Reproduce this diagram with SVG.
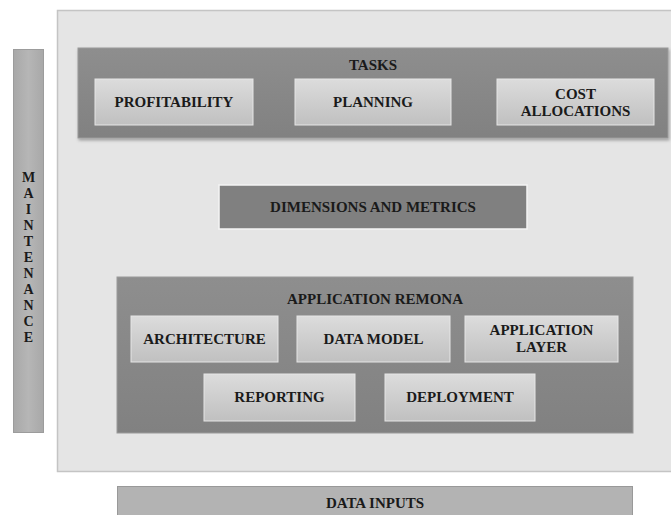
<svg xmlns="http://www.w3.org/2000/svg" width="671" height="515" viewBox="0 0 671 515">
<defs>
<linearGradient id="gInner" x1="0" y1="0" x2="0" y2="1">
<stop offset="0" stop-color="#dcdcdc"/>
<stop offset="1" stop-color="#c0c0c0"/>
</linearGradient>
<linearGradient id="gDark" x1="0" y1="0" x2="0" y2="1">
<stop offset="0" stop-color="#8e8e8e"/>
<stop offset="1" stop-color="#818181"/>
</linearGradient>
<linearGradient id="gBar" x1="0" y1="0" x2="1" y2="0">
<stop offset="0" stop-color="#a8a8a8"/>
<stop offset="0.5" stop-color="#b6b6b6"/>
<stop offset="1" stop-color="#a8a8a8"/>
</linearGradient>
<filter id="sh" x="-5%" y="-10%" width="110%" height="125%">
<feDropShadow dx="1" dy="2" stdDeviation="1.5" flood-color="#000" flood-opacity="0.3"/>
</filter>
</defs>
<style>
text{font-family:"Liberation Serif","Times New Roman",serif;font-weight:bold;fill:#1a1a1a;text-anchor:middle;font-size:15px}
.inner{fill:url(#gInner);stroke:#e6e6e6;stroke-width:1}
.dark{fill:url(#gDark);stroke:#9a9a9a;stroke-width:1}
.v{font-size:14px}
</style>
<rect width="671" height="515" fill="#ffffff"/>

<g id="panel">
<rect x="57.5" y="10.5" width="620" height="461" fill="#e5e5e5" stroke="#c4c4c4" stroke-width="1.5"/>
</g>

<g id="maintenance">
<rect x="13.5" y="49.5" width="30" height="383" fill="url(#gBar)" stroke="#9c9c9c" stroke-width="1"/>
<text class="v" x="28.5" y="182">M</text>
<text class="v" x="28.5" y="198">A</text>
<text class="v" x="28.5" y="214">I</text>
<text class="v" x="28.5" y="230">N</text>
<text class="v" x="28.5" y="246">T</text>
<text class="v" x="28.5" y="262">E</text>
<text class="v" x="28.5" y="278">N</text>
<text class="v" x="28.5" y="294">A</text>
<text class="v" x="28.5" y="310">N</text>
<text class="v" x="28.5" y="326">C</text>
<text class="v" x="28.5" y="342">E</text>
</g>

<g id="tasks">
<rect class="dark" x="78" y="48" width="590" height="90" filter="url(#sh)"/>
<text x="373" y="70">TASKS</text>
</g>
<g id="profitability">
<rect class="inner" x="95" y="79" width="158" height="46"/>
<text x="174" y="107">PROFITABILITY</text>
</g>
<g id="planning">
<rect class="inner" x="295" y="79" width="156" height="46"/>
<text x="373" y="107">PLANNING</text>
</g>
<g id="cost-allocations">
<rect class="inner" x="497" y="79" width="157" height="46"/>
<text x="575.5" y="99">COST</text>
<text x="575.5" y="116">ALLOCATIONS</text>
</g>

<g id="dimensions-metrics">
<rect x="219" y="185" width="308" height="44" fill="#808080" stroke="#f4f4f4" stroke-width="1.5"/>
<text x="373" y="212">DIMENSIONS AND METRICS</text>
</g>

<g id="application-remona">
<rect class="dark" x="117" y="277" width="516" height="156"/>
<text x="375" y="304">APPLICATION REMONA</text>
</g>
<g id="architecture">
<rect class="inner" x="131" y="316" width="147" height="46"/>
<text x="204.5" y="344">ARCHITECTURE</text>
</g>
<g id="data-model">
<rect class="inner" x="297" y="316" width="153" height="46"/>
<text x="373.5" y="344">DATA MODEL</text>
</g>
<g id="application-layer">
<rect class="inner" x="465" y="316" width="153" height="46"/>
<text x="541.5" y="335">APPLICATION</text>
<text x="541.5" y="352">LAYER</text>
</g>
<g id="reporting">
<rect class="inner" x="204" y="374" width="151" height="47"/>
<text x="279.5" y="402">REPORTING</text>
</g>
<g id="deployment">
<rect class="inner" x="385" y="374" width="150" height="47"/>
<text x="460" y="402">DEPLOYMENT</text>
</g>

<g id="data-inputs">
<rect x="117.5" y="486.5" width="515" height="40" fill="#b3b3b3" stroke="#999" stroke-width="1"/>
<text x="375" y="508">DATA INPUTS</text>
</g>

<g id="connectors"></g>
</svg>
